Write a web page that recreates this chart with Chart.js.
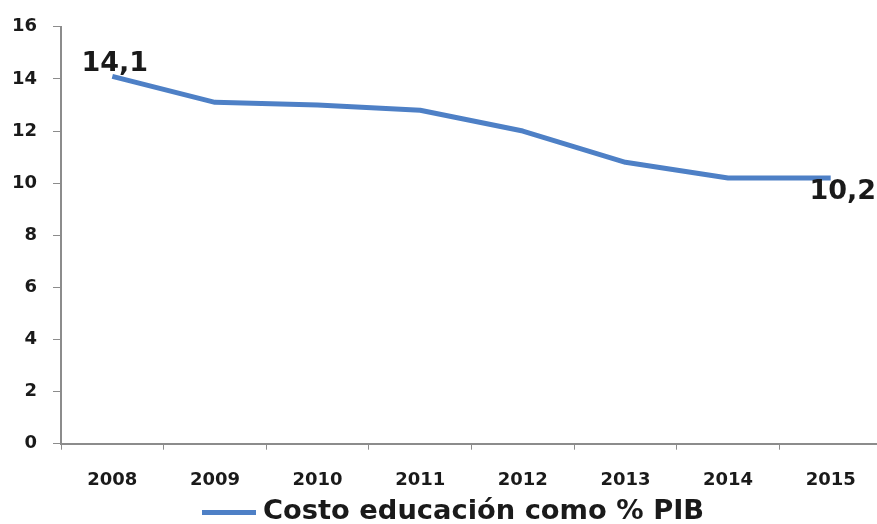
<!DOCTYPE html>
<html>
<head>
<meta charset="utf-8">
<script src="https://cdn.jsdelivr.net/npm/chart.js@4/dist/chart.umd.min.js"></script>
<style>
  html, body { margin: 0; padding: 0; background: #ffffff; overflow: hidden; }
  #wrap { position: absolute; left: 0; top: 0; width: 912px; height: 524px; }
</style>
</head>
<body>
<div id="wrap"><canvas id="c" width="912" height="524"></canvas></div>
<script>
const years = ["2008", "2009", "2010", "2011", "2012", "2013", "2014", "2015"];
const costoEducacion = [14.1, 13.1, 13.0, 12.8, 12.0, 10.8, 10.2, 10.2];
const seriesName = "Costo educación como % PIB";
const labelIndexes = [0, 7];

const lineColor = "#4E80C6";
const axisColor = "#8C8C8C";
const textColor = "#1A1A1A";

// legend symbol: a short thick line segment
const legendSymbol = document.createElement("canvas");
legendSymbol.width = 54;
legendSymbol.height = 5;
(function () {
  const g = legendSymbol.getContext("2d");
  g.fillStyle = lineColor;
  g.fillRect(0, 0, legendSymbol.width, legendSymbol.height);
})();

const endLabels = {
  id: "endLabels",
  afterDatasetsDraw(chart) {
    const ctx = chart.ctx;
    const meta = chart.getDatasetMeta(0);
    ctx.save();
    ctx.font = "bold 27px 'DejaVu Sans'";
    ctx.fillStyle = textColor;
    ctx.textAlign = "center";
    labelIndexes.forEach((i, k) => {
      const p = meta.data[i];
      const txt = costoEducacion[i].toFixed(1).replace(".", ",");
      if (k === 0) {
        ctx.textBaseline = "alphabetic";
        ctx.fillText(txt, p.x + 2.5, p.y - 5);
      } else {
        ctx.textBaseline = "top";
        ctx.fillText(txt, p.x + 12, p.y + 1);
      }
    });
    ctx.restore();
  }
};

new Chart(document.getElementById("c"), {
  type: "line",
  data: {
    labels: years,
    datasets: [{
      label: seriesName,
      data: costoEducacion,
      borderColor: lineColor,
      backgroundColor: lineColor,
      borderWidth: 5,
      pointRadius: 0,
      pointHoverRadius: 0,
      tension: 0,
      borderCapStyle: "butt",
      borderJoinStyle: "round",
      yAxisID: "y"
    }]
  },
  options: {
    responsive: false,
    animation: false,
    devicePixelRatio: 1,
    layout: { padding: { left: 0, top: 24, right: 0, bottom: -12 } },
    plugins: {
      tooltip: { enabled: false },
      legend: {
        position: "bottom",
        labels: {
          color: textColor,
          font: { family: "'DejaVu Sans'", size: 27.3, weight: "600" },
          usePointStyle: true,
          pointStyleWidth: 41.5,
          boxWidth: 41.5,
          boxHeight: 5,
          padding: 2,
          generateLabels(chart) {
            const items = Chart.defaults.plugins.legend.labels.generateLabels(chart);
            items.forEach(it => {
              it.lineWidth = 0;
              it.fillStyle = lineColor;
              it.pointStyle = legendSymbol;
            });
            return items;
          }
        }
      }
    },
    scales: {
      x: {
        offset: true,
        grid: {
          display: true,
          drawOnChartArea: false,
          drawTicks: true,
          tickLength: 6,
          color: axisColor,
          offset: true
        },
        border: { display: true, color: axisColor, width: 2 },
        ticks: {
          color: textColor,
          font: { family: "'DejaVu Sans'", size: 18, weight: "bold" },
          padding: 20,
          maxRotation: 0
        },
        afterFit(scale) { scale.height = 53; }
      },
      y: {
        position: "left",
        min: 0,
        max: 16,
        grid: {
          display: true,
          drawOnChartArea: false,
          drawTicks: true,
          tickLength: 8,
          color: axisColor
        },
        border: { display: true, color: axisColor, width: 2 },
        ticks: {
          stepSize: 2,
          color: textColor,
          font: { family: "'DejaVu Sans'", size: 18, weight: "bold" },
          padding: 16
        },
        afterFit(scale) { scale.width = 61; }
      },
      yRight: {
        position: "right",
        display: true,
        min: 0,
        max: 16,
        grid: { display: false, drawTicks: false },
        border: { display: false },
        ticks: { display: false },
        afterFit(scale) { scale.width = 30; }
      }
    }
  },
  plugins: [endLabels]
});
</script>
</body>
</html>
